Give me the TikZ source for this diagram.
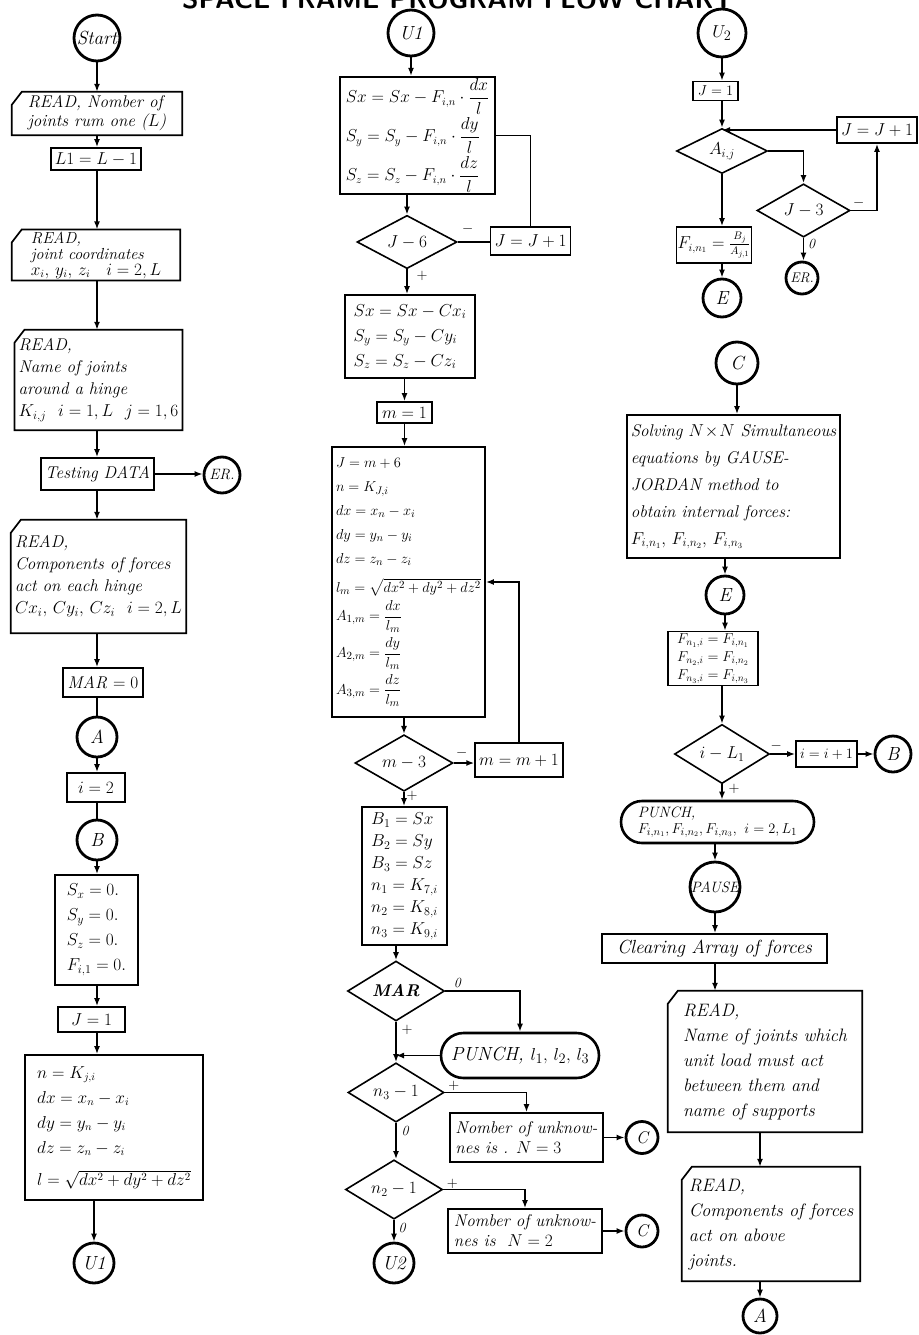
\documentclass[tikz,border=0pt]{standalone}
\usepackage{amsmath}
\usetikzlibrary{shapes.geometric,shapes.misc,arrows.meta}
% handwriting-like italic text at a given size / line spacing
\newcommand\hand[2]{\fontsize{#1}{#2}\selectfont\itshape}
% outline of a punched-card box (cut top-left corner)
\newcommand\cardframe[1]{\draw[frame] ([xshift=10pt]#1.north west) -- (#1.north east) -- (#1.south east) -- (#1.south west) -- ([yshift=-13pt]#1.north west) -- cycle;}

\begin{document}
\begin{tikzpicture}[x=1pt,y=-1pt,
  every node/.style={inner sep=2pt, font=\hand{17}{20}},
  frame/.style={line width=1.7pt, line join=miter},
  box/.style={draw, rectangle, line width=1.7pt, align=left, inner xsep=4pt},
  card/.style={rectangle, align=left, inner xsep=4pt},
  conn/.style={draw, circle, line width=2.8pt, inner sep=0pt, font=\hand{19}{19}},
  dec/.style={draw, diamond, line width=1.6pt, inner sep=0pt},
  term/.style={draw, rounded rectangle, line width=2.6pt, align=left, inner xsep=6pt},
  arr/.style={line width=1.6pt, -{Latex[length=8pt,width=6pt]}},
  ln/.style={line width=1.6pt},
  sgn/.style={inner sep=0pt, font=\fontsize{15}{15}\selectfont\bfseries},
  zero/.style={inner sep=0pt, font=\hand{14}{14}},
]
\fill[white] (0,0) rectangle (918,1335);
\useasboundingbox (0,0) rectangle (918,1335);

% title, its upper half falls outside the page
\node[anchor=base west, inner sep=0pt, font=\fontsize{27}{27}\selectfont\sffamily\bfseries] (title) at (182,9) {SPACE FRAME PROGRAM FLOW CHART};

% ---------------- first column ----------------
\coordinate (s1) at (97,0);
\node[conn, minimum size=46pt] (start) at (97,38) {Start};
\node[card, minimum width=170pt, minimum height=43pt, font=\hand{17}{19}] (read1) at (97,113.5) {READ, Nomber of\\ joints rum one ($L$)};
\cardframe{read1}
\node[box, minimum width=62pt, minimum height=22pt] (l1) at (96,159) {$L1=L-1$};
\node[card, minimum width=168pt, minimum height=50pt, font=\hand{16}{16}] (read2) at (96,255) {READ,\\ joint coordinates\\ $x_i,\, y_i,\, z_i\quad i=2,L$};
\cardframe{read2}
\node[card, minimum width=167pt, minimum height=100pt, font=\hand{17}{22}] (read3) at (98.5,380) {READ,\\ Name of joints\\ around a hinge\\ $K_{i,j}\ \ i=1,L\ \ j=1,6$};
\cardframe{read3}
\node[box, minimum width=109pt, minimum height=32pt] (test) at (97.5,474) {Testing DATA};
\node[conn, minimum size=36pt, font=\hand{15}{15}] (er1) at (222,475) {ER.};
\node[card, minimum width=167pt, minimum height=113pt, font=\hand{17}{22}] (read4) at (98.5,576.5) {READ,\\ Components of forces\\ act on each hinge\\ $Cx_i,\, Cy_i,\, Cz_i\ \ i=2,L$};
\cardframe{read4}
\node[box, minimum width=80pt, minimum height=29pt] (mar0) at (103,682.5) {MAR $=0$};
\node[conn, minimum size=40pt] (a1) at (97,737) {A};
\node[box, minimum width=58pt, minimum height=29pt] (i2) at (96,787.5) {$i=2$};
\node[conn, minimum size=40pt] (b1) at (97,840) {B};
\node[box, minimum width=83pt, minimum height=110pt, font=\hand{17}{25}] (s0) at (96.5,930) {$S_x=0.$\\ $S_y=0.$\\ $S_z=0.$\\ $F_{i,1}=0.$};
\node[box, minimum width=67pt, minimum height=25pt] (j1) at (91.5,1019.5) {$J=1$};
\node[box, minimum width=178pt, minimum height=145pt, font=\hand{16}{25}] (nbox) at (114,1127.5) {$n=K_{j,i}$\\ $dx=x_n-x_i$\\ $dy=y_n-y_i$\\ $dz=z_n-z_i$\\[7pt] $l=\sqrt{dx^2+dy^2+dz^2}$};
\node[conn, minimum size=40pt] (u1a) at (94,1263) {U1};

\draw[arr] (start.south -| s1) -- (read1.north -| s1);
\draw[arr] (read1.south -| s1) -- (l1.north -| s1);
\draw[arr] (l1.south -| s1) -- (read2.north -| s1);
\draw[arr] (read2.south -| s1) -- (read3.north -| s1);
\draw[arr] (read3.south -| s1) -- (test.north -| s1);
\draw[arr] (test.east) -- (test.east -| er1.west);
\draw[arr] (test.south -| s1) -- (read4.north -| s1);
\draw[arr] (read4.south -| s1) -- (mar0.north -| s1);
\draw[ln]  (mar0.south -| s1) -- (a1.north -| s1);
\draw[arr] (a1.south -| s1) -- (i2.north -| s1);
\draw[ln]  (i2.south -| s1) -- (b1.north -| s1);
\draw[arr] (b1.south -| s1) -- (s0.north -| s1);
\draw[arr] (s0.south -| s1) -- (j1.north -| s1);
\draw[arr] (j1.south -| s1) -- (nbox.north -| s1);
\draw[arr] (nbox.south -| u1a.north) -- (u1a.north);

% ---------------- second column ----------------
\node[conn, minimum size=46pt] (u1b) at (411,33) {U1};
\node[box, minimum width=155pt, minimum height=115pt, font=\hand{16}{39}] (sbox) at (417.5,135.5) {$Sx=Sx-F_{i,n}\cdot\dfrac{dx}{l}$\\ $S_y=S_y-F_{i,n}\cdot\dfrac{dy}{l}$\\ $S_z=S_z-F_{i,n}\cdot\dfrac{dz}{l}$};
\node[dec, minimum width=100pt, minimum height=46pt] (j6) at (407,242) {$J-6$};
\node[box, minimum width=65pt, minimum height=28pt] (jj1) at (530.5,241) {$J=J+1$};
\node[box, minimum width=130pt, minimum height=83pt, font=\hand{17}{25}] (sx2) at (410,336.5) {$Sx=Sx-Cx_i$\\ $S_y=S_y-Cy_i$\\ $S_z=S_z-Cz_i$};
\node[box, minimum width=55pt, minimum height=21pt] (m1) at (404.5,412.5) {$m=1$};
\node[box, minimum width=153pt, minimum height=270pt, font=\hand{15}{24}] (big) at (408.5,582) {$J=m+6$\\ $n=K_{J,i}$\\ $dx=x_n-x_i$\\ $dy=y_n-y_i$\\ $dz=z_n-z_i$\\[5pt] $l_m=\sqrt{dx^2+dy^2+dz^2}$\\[4pt] $A_{1,m}=\dfrac{dx}{l_m}$\\[4pt] $A_{2,m}=\dfrac{dy}{l_m}$\\[4pt] $A_{3,m}=\dfrac{dz}{l_m}$};
\node[dec, minimum width=98pt, minimum height=44pt] (m3) at (404,763) {$m-3$};
\node[box, minimum width=68pt, minimum height=34pt] (mm1) at (519,760) {$m=m+1$};
\node[box, minimum width=85pt, minimum height=138pt, font=\hand{17}{22}] (bbox) at (404.5,876) {$B_1=Sx$\\ $B_2=Sy$\\ $B_3=Sz$\\ $n_1=K_{7,i}$\\ $n_2=K_{8,i}$\\ $n_3=K_{9,i}$};
\node[dec, minimum width=97pt, minimum height=48pt, font=\fontsize{17}{17}\selectfont\bfseries\itshape] (mar) at (396,991) {MAR};
\node[term, minimum width=170pt, minimum height=45pt, font=\hand{19}{19}] (punch1) at (520,1055.5) {PUNCH, $l_1,\, l_2,\, l_3$};
\node[dec, minimum width=96pt, minimum height=45pt] (n3) at (396,1092.5) {$n_3-1$};
\node[box, minimum width=153pt, minimum height=49pt, font=\hand{17}{20}] (nb3) at (526.5,1137.5) {Nomber of unknow-\\ nes is . $N=3$};
\node[dec, minimum width=97pt, minimum height=47pt] (n2) at (394,1189.5) {$n_2-1$};
\node[box, minimum width=154pt, minimum height=44pt, font=\hand{17}{20}] (nb2) at (525,1231) {Nomber of unknow-\\ nes is\ \ $N=2$};
\node[conn, minimum size=40pt] (u2a) at (394,1263) {U2};
\node[conn, minimum size=32pt, font=\hand{17}{17}] (c1) at (642,1137.5) {C};
\node[conn, minimum size=32pt, font=\hand{17}{17}] (c2) at (642,1231) {C};

\draw[arr] (u1b.south) -- (u1b.south |- sbox.north);
\draw[arr] (sbox.south -| j6.north) -- (j6.north);
\draw[ln]  (j6.east) -- (j6.east -| jj1.west);
\draw[ln]  (jj1.north) |- (sbox.east);
\draw[arr] (j6.south) -- (j6.south |- sx2.north);
\draw[arr] (sx2.south -| m1.north) -- (m1.north);
\draw[arr] (m1.south) -- (m1.south |- big.north);
\draw[arr] (big.south -| m3.north) -- (m3.north);
\draw[arr] (m3.east) -- (m3.east -| mm1.west);
\draw[arr] (mm1.north) |- (big.east);
\draw[arr] (m3.south) -- (m3.south |- bbox.north);
\draw[arr] (bbox.south -| mar.north) -- (mar.north);
\draw[arr] (mar.east) -| (punch1.north);
\draw[arr] (punch1.west) -- (punch1.west -| mar.south);
\draw[arr] (mar.south) -- (mar.south |- n3.north);
\draw[arr] (n3.east) -| (nb3.north);
\draw[arr] (nb3.east) -- (c1.west);
\draw[arr] (n3.south) -- (n3.south |- n2.north);
\draw[arr] (n2.east) -| (nb2.north);
\draw[arr] (nb2.east) -- (c2.west);
\draw[arr] (n2.south) -- (n2.south |- u2a.north);

\node[sgn] at ([xshift=10pt,yshift=13pt]j6.east) {$-$};
\node[sgn] at ([xshift=15pt,yshift=-6pt]j6.south) {$+$};
\node[sgn] at ([xshift=8pt,yshift=10pt]m3.east) {$-$};
\node[sgn] at ([xshift=8pt,yshift=-4pt]m3.south) {$+$};
\node[zero] at ([xshift=12pt,yshift=8pt]mar.east) {0};
\node[sgn] at ([xshift=11pt,yshift=-8pt]mar.south) {$+$};
\node[sgn] at ([xshift=9pt,yshift=7pt]n3.east) {$+$};
\node[zero] at ([xshift=9pt,yshift=-8pt]n3.south) {0};
\node[sgn] at ([xshift=9pt,yshift=6pt]n2.east) {$+$};
\node[zero] at ([xshift=8pt,yshift=-8pt]n2.south) {0};

% ---------------- third column ----------------
\node[conn, minimum size=48pt] (u2b) at (722,33) {$U_2$};
\node[box, minimum width=45pt, minimum height=19pt, font=\hand{15}{15}] (jc1) at (715.5,91) {$J=1$};
\node[dec, minimum width=91pt, minimum height=45pt] (aij) at (722,151) {$A_{i,j}$};
\node[box, minimum width=70pt, minimum height=26pt] (jj3) at (877,130) {$J=J+1$};
\node[dec, minimum width=93pt, minimum height=45pt] (j3) at (803.5,210.5) {$J-3$};
\node[conn, minimum size=32pt, font=\hand{14}{14}] (er2) at (802,278) {ER.};
\node[box, minimum width=72pt, minimum height=36pt, font=\hand{16}{16}, inner sep=1pt] (fbox) at (714,245) {$F_{i,n_1}=\frac{B_j}{A_{j,1}}$};
\node[conn, minimum size=38pt] (e1) at (722,298) {E};
\node[conn, minimum size=42pt] (cc) at (737,363) {C};
\node[box, minimum width=207pt, minimum height=143pt, font=\hand{17}{27}] (solve) at (733.5,486.5) {Solving $N\!\times\!N$ Simultaneous\\ equations by GAUSE-\\ JORDAN method to\\ obtain internal forces:\\ $F_{i,n_1},\, F_{i,n_2},\, F_{i,n_3}$};
\node[conn, minimum size=38pt] (e2) at (725,595) {E};
\node[box, minimum width=90pt, minimum height=53pt, font=\hand{14}{18}, inner xsep=3pt] (fn) at (713,658.5) {$F_{n_1,i}=F_{i,n_1}$\\ $F_{n_2,i}=F_{i,n_2}$\\ $F_{n_3,i}=F_{i,n_3}$};
\node[dec, minimum width=95pt, minimum height=40pt] (il1) at (722,754) {$i-L_1$};
\node[box, minimum width=53pt, minimum height=26pt, font=\hand{14}{14}] (ii1) at (826.5,754) {$i=i+1$};
\node[conn, minimum size=36pt] (b2) at (893,754) {B};
\node[term, minimum width=205pt, minimum height=42pt, font=\hand{15}{16}] (punch2) at (717.5,822) {PUNCH,\\ $F_{i,n_1},F_{i,n_2},F_{i,n_3},\ i=2,L_1$};
\node[conn, minimum size=50pt, font=\hand{15}{15}] (pause) at (715,887) {PAUSE};
\node[box, minimum width=225pt, minimum height=29pt, font=\hand{19}{19}] (clear) at (714.5,948.5) {Clearing Array of forces};
\node[card, minimum width=194pt, minimum height=141pt, font=\hand{18}{25}] (read5) at (765,1061.5) {READ,\\ Name of joints which\\ unit load must act\\ between them and\\ name of supports};
\cardframe{read5}
\node[card, minimum width=178pt, minimum height=114pt, font=\hand{18}{25}] (read6) at (771,1224) {READ,\\ Components of forces\\ act on above\\ joints.};
\cardframe{read6}
\node[conn, minimum size=34pt] (a2) at (760,1316) {A};

\draw[arr] (u2b.south) -- (u2b.south |- jc1.north);
\draw[arr] (jc1.south -| aij.north) -- (aij.north);
\draw[arr] (jj3.west) -- (jj3.west -| aij.north);
\draw[arr] (aij.east) -| (j3.north);
\draw[arr] (j3.east) -| (jj3.south);
\draw[arr] (j3.south) -- (j3.south |- er2.north);
\draw[arr] (aij.south) -- (aij.south |- fbox.north);
\draw[arr] (fbox.south -| e1.north) -- (e1.north);
\draw[arr] (cc.south) -- (cc.south |- solve.north);
\draw[arr] (solve.south -| e2.north) -- (e2.north);
\draw[arr] (e2.south) -- (e2.south |- fn.north);
\draw[arr] (fn.south -| il1.north) -- (il1.north);
\draw[arr] (il1.east) -- (ii1.west);
\draw[arr] (ii1.east) -- (b2.west);
\draw[arr] (il1.south) -- (il1.south |- punch2.north);
\draw[arr] (punch2.south -| pause.north) -- (pause.north);
\draw[arr] (pause.south) -- (pause.south |- clear.north);
\draw[arr] (pause.south |- clear.south) -- (pause.south |- read5.north);
\draw[arr] (a2.north |- read5.south) -- (a2.north |- read6.north);
\draw[arr] (read6.south -| a2.north) -- (a2.north);

\node[sgn] at ([xshift=8pt,yshift=8pt]j3.east) {$-$};
\node[zero] at ([xshift=8pt,yshift=-6pt]j3.south) {0};
\node[sgn] at ([xshift=6pt,yshift=8pt]il1.east) {$-$};
\node[sgn] at ([xshift=12pt,yshift=-5pt]il1.south) {$+$};
\end{tikzpicture}
\end{document}
